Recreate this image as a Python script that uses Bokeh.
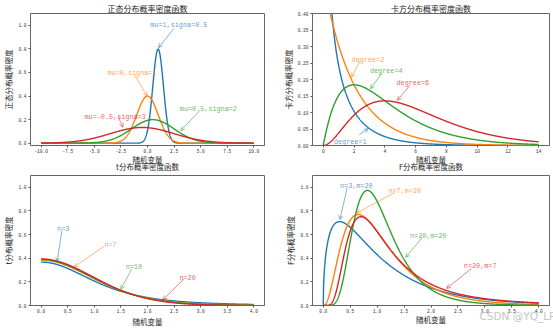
import math
import numpy as np
from bokeh.plotting import figure
from bokeh.layouts import column, row
from bokeh.models import (Label, Arrow, OpenHead, FixedTicker, PrintfTickFormatter, Range1d, Title)
from bokeh.embed import file_html
from bokeh.resources import INLINE

COLORS = ["#1f77b4", "#ff7f0e", "#2ca02c", "#d62728"]
CJK = "Noto Sans CJK SC"
MONO = "Liberation Mono"

# ---------------- data: distribution parameters -------------
normal_mu = [1, 0, 0.5, -0.5]
normal_sigma = [0.5, 1, 2, 3]
normal_labels = ["mu=1,signa=0.5", "mu=0,signa=1", "mu=0.5,signa=2", "mu=-0.5,signa=3"]

chi2_degree = [1, 2, 4, 6]
chi2_labels = ["degree=1", "degree=2", "degree=4", "degree=6"]

t_n = [3, 7, 10, 20]
t_labels = ["n=3", "n=7", "n=10", "n=20"]

f_n = [3, 7, 20, 20]
f_m = [20, 20, 20, 7]
f_labels = ["n=3,m=20", "n=7,m=20", "n=20,m=20", "n=20,m=7"]

# tick values
normal_xticks = [-10, -7.5, -5, -2.5, 0, 2.5, 5, 7.5, 10]
normal_yticks = [0, 0.2, 0.4, 0.6, 0.8, 1.0]
chi2_xticks = [0, 2, 4, 6, 8, 10, 12, 14]
chi2_yticks = [0, 0.05, 0.1, 0.15, 0.2, 0.25, 0.3, 0.35, 0.4]
t_xticks = [0, 0.5, 1, 1.5, 2, 2.5, 3, 3.5, 4]
t_yticks = [0, 0.2, 0.4, 0.6, 0.8, 1.0]
f_xticks = [0, 0.5, 1, 1.5, 2, 2.5, 3, 3.5, 4]
f_yticks = [0, 0.2, 0.4, 0.6, 0.8, 1.0]

# annotation placement (data units): text anchor, arrow start, arrow tip
normal_ann = dict(tx=[0.26, -3.76, 3.04, -5.92], ty=[1.0, 0.597, 0.289, 0.226],
                  x0=[2.5, -1.19, 4.9, -2.74], y0=[0.975, 0.576, 0.275, 0.219],
                  x1=[1.04, -0.05, 3.14, -2.30], y1=[0.81, 0.40, 0.106, 0.135])
chi2_ann = dict(tx=[0.69, 1.84, 3.03, 4.76], ty=[0.011, 0.260, 0.225, 0.190],
                x0=[2.34, 2.38, 3.79, 5.63], y0=[0.033, 0.255, 0.218, 0.182],
                x1=[2.92, 1.84, 3.07, 4.82], y1=[0.051, 0.208, 0.172, 0.137])
t_ann = dict(tx=[0.30, 1.19, 1.59, 2.60], ty=[0.646, 0.514, 0.327, 0.235],
             x0=[0.39, 1.18, 1.70, 2.68], y0=[0.631, 0.50, 0.306, 0.222],
             x1=[0.30, 0.62, 1.50, 2.29], y1=[0.372, 0.325, 0.139, 0.048])
f_ann = dict(tx=[0.31, 1.21, 1.61, 2.61], ty=[1.01, 0.971, 0.59, 0.333],
             x0=[0.445, 1.33, 1.84, 2.75], y0=[1.0, 0.956, 0.575, 0.312],
             x1=[0.31, 0.62, 1.53, 2.29], y1=[0.728, 0.783, 0.408, 0.145])


# ---------------- density functions ----------------
def normal_pdf(x, mu, s):
    return np.exp(-(x - mu) ** 2 / (2 * s * s)) / (s * math.sqrt(2 * math.pi))


def chi2_pdf(x, k):
    with np.errstate(divide="ignore", invalid="ignore"):
        y = x ** (k / 2 - 1) * np.exp(-x / 2) / (2 ** (k / 2) * math.gamma(k / 2))
    y = np.where(np.isfinite(y), y, np.nan)
    return y


def t_pdf(x, n):
    c = math.exp(math.lgamma((n + 1) / 2) - math.lgamma(n / 2)) / math.sqrt(n * math.pi)
    return c * (1 + x ** 2 / n) ** (-(n + 1) / 2)


def f_pdf(x, d1, d2):
    lb = math.lgamma(d1 / 2) + math.lgamma(d2 / 2) - math.lgamma((d1 + d2) / 2)
    y = np.zeros_like(x)
    m = x > 0
    xm = x[m]
    logy = (0.5 * (d1 * np.log(d1 * xm) + d2 * math.log(d2) - (d1 + d2) * np.log(d1 * xm + d2))
            - np.log(xm) - lb)
    y[m] = np.exp(logy)
    return y


x_normal = np.linspace(-10, 10, 1000)
x_chi2 = np.linspace(0, 14, 1000)
x_t = np.linspace(0, 4, 500)
x_f = np.linspace(0, 4, 1000)


def make_fig(width, height, xr, yr, bl, br, bt, bb, xticks, yticks, xfmt, yfmt, ylabel, title,
             xlabel="随机变量", xlabel_standoff=0):
    p = figure(width=width, height=height, title=title,
               x_range=Range1d(*xr), y_range=Range1d(*yr),
               output_backend="svg", toolbar_location=None,
               min_border_left=bl, min_border_right=br,
               min_border_top=bt, min_border_bottom=bb)
    if title is not None:
        p.title.text_font = CJK
        p.title.text_font_size = "8px"
        p.title.text_font_style = "normal"
        p.title.text_color = "#222222"
        p.title.align = "center"
        p.title.standoff = 0
    p.xgrid.visible = False
    p.ygrid.visible = False
    p.outline_line_color = "#666666"
    p.outline_line_width = 1
    p.background_fill_color = "white"
    p.border_fill_color = "white"
    for ax in (p.xaxis[0], p.yaxis[0]):
        ax.axis_line_color = None
        ax.major_tick_line_color = "#555555"
        ax.major_tick_out = 2
        ax.major_tick_in = 0
        ax.minor_tick_line_color = None
        ax.major_label_text_font = MONO
        ax.major_label_text_font_size = "4.5px"
        ax.major_label_text_color = "#333333"
        ax.major_label_standoff = 1
        ax.axis_label_text_font = CJK
        ax.axis_label_text_font_size = "7.5px"
        ax.axis_label_text_font_style = "normal"
        ax.axis_label_text_color = "#222222"
    p.xaxis[0].axis_label_standoff = xlabel_standoff
    p.yaxis[0].major_label_standoff = 2
    p.yaxis[0].axis_label_standoff = 1
    p.xaxis[0].ticker = FixedTicker(ticks=xticks)
    p.yaxis[0].ticker = FixedTicker(ticks=yticks)
    p.xaxis[0].formatter = PrintfTickFormatter(format=xfmt)
    p.yaxis[0].formatter = PrintfTickFormatter(format=yfmt)
    if xlabel is not None:
        p.xaxis[0].axis_label = xlabel
    p.yaxis[0].axis_label = ylabel
    return p


def below_title(p, text, font, size, color, align="center", offset=0, standoff=-10, valign="top"):
    p.add_layout(Title(text=text, text_font=font, text_font_size=size, text_font_style="normal",
                       text_color=color, align=align, offset=offset, standoff=standoff,
                       vertical_align=valign), "below")


def add_annotations(p, labels, ann):
    for i, lab in enumerate(labels):
        c = COLORS[i]
        p.add_layout(Arrow(end=OpenHead(size=4, line_color=c, line_alpha=0.7, line_width=0.8),
                           x_start=ann["x0"][i], y_start=ann["y0"][i],
                           x_end=ann["x1"][i], y_end=ann["y1"][i],
                           line_color=c, line_alpha=0.7, line_width=0.8))
        p.add_layout(Label(x=ann["tx"][i], y=ann["ty"][i], text=lab, text_font=MONO,
                           text_font_size="6.8px", text_color=c, text_alpha=0.75,
                           text_align="left", text_baseline="alphabetic"))


LW = 1.4
TOP_H, BOT_H = 175, 154

# --- normal (its x-axis label carries, on a second line, the title of the panel below,
#     which in the original figure sits tucked right under this label)
p1 = make_fig(276, TOP_H, (-11, 11), (-0.02, 1.1), 27, 12, 13, 25,
              normal_xticks, normal_yticks, "%.1f", "%.1f", "正态分布概率密度", "正态分布概率密度函数",
              xlabel="随机变量\nt分布概率密度函数", xlabel_standoff=-2)
p1.xaxis[0].axis_label_text_line_height = 0.72
for i in range(4):
    p1.line(x_normal, normal_pdf(x_normal, normal_mu[i], normal_sigma[i]), color=COLORS[i], line_width=LW)
add_annotations(p1, normal_labels, normal_ann)

# --- chi2
p2 = make_fig(277, TOP_H, (-0.7, 14.7), (0, 0.4), 36, 4, 13, 25,
              chi2_xticks, chi2_yticks, "%d", "%.2f", "卡方分布概率密度", "卡方分布概率密度函数",
              xlabel="随机变量\nF分布概率密度函数", xlabel_standoff=-2)
p2.xaxis[0].axis_label_text_line_height = 0.72
for i in range(4):
    p2.line(x_chi2, chi2_pdf(x_chi2, chi2_degree[i]), color=COLORS[i], line_width=LW)
add_annotations(p2, chi2_labels, chi2_ann)

# --- t
p3 = make_fig(276, BOT_H, (-0.2, 4.2), (0, 1.1), 27, 12, 0, 23,
              t_xticks, t_yticks, "%.1f", "%.1f", "t分布概率密度", None)
for i in range(4):
    p3.line(x_t, t_pdf(x_t, t_n[i]), color=COLORS[i], line_width=LW)
add_annotations(p3, t_labels, t_ann)

# --- F
p4 = make_fig(277, BOT_H, (-0.2, 4.2), (0, 1.1), 36, 4, 0, 23,
              f_xticks, f_yticks, "%.1f", "%.1f", "F分布概率密度", None, xlabel=None)
for i in range(4):
    p4.line(x_f, f_pdf(x_f, f_n[i], f_m[i]), color=COLORS[i], line_width=LW)
add_annotations(p4, f_labels, f_ann)
below_title(p4, "CSDN @YQ_LP", "DejaVu Sans", "10.5px", "#c4c4c4", align="left", offset=167, standoff=-11)
below_title(p4, "随机变量", CJK, "7.5px", "#222222", standoff=-10)

layout = column(row(p1, p2), row(p3, p4))
open("out.html", "w").write(file_html(layout, INLINE))
